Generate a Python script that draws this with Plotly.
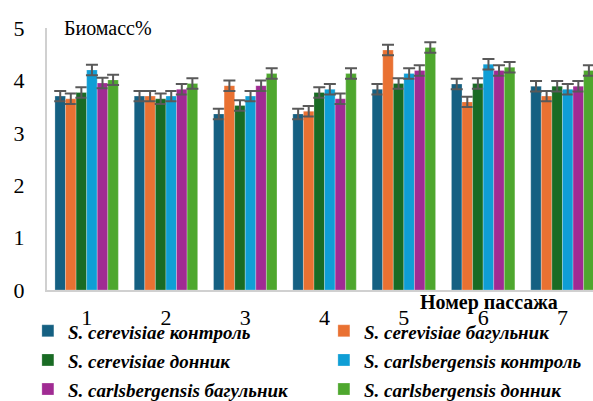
import plotly.graph_objects as go

passages = ["1", "2", "3", "4", "5", "6", "7"]

series_names = [
    "S. cerevisiae контроль",
    "S. cerevisiae багульник",
    "S. cerevisiae донник",
    "S. carlsbergensis контроль",
    "S. carlsbergensis багульник",
    "S. carlsbergensis донник",
]
colors = ["#156082", "#E97132", "#196B24", "#0F9ED5", "#A02B93", "#4EA72E"]

cer_control = [3.70, 3.70, 3.36, 3.36, 3.83, 3.93, 3.89]
cer_bagulnik = [3.65, 3.70, 3.90, 3.41, 4.58, 3.59, 3.70]
cer_donnik = [3.77, 3.65, 3.52, 3.77, 3.94, 3.94, 3.89]
carl_control = [4.20, 3.70, 3.70, 3.83, 4.13, 4.31, 3.83]
carl_bagulnik = [3.95, 3.83, 3.90, 3.65, 4.19, 4.19, 3.89]
carl_donnik = [4.01, 3.94, 4.13, 4.13, 4.63, 4.25, 4.19]
error = [0.1, 0.1, 0.1, 0.1, 0.1, 0.1, 0.1]

series = [cer_control, cer_bagulnik, cer_donnik, carl_control, carl_bagulnik, carl_donnik]

FONT = "Liberation Serif, 'Times New Roman', 'DejaVu Serif', serif"

fig = go.Figure()
for name, vals, col in zip(series_names, series, colors):
    fig.add_trace(go.Bar(
        x=passages, y=vals,
        name=f'<span style="font-size:19px"><b><i>{name}</i></b></span>',
        marker=dict(color=col, line=dict(color="rgba(255,255,255,0.5)", width=0.5)),
        error_y=dict(type="data", array=error, color="#595959", thickness=2, width=6),
    ))

fig.update_layout(
    width=593, height=401,
    margin=dict(l=47, r=0, t=28, b=111, autoexpand=False),
    paper_bgcolor="white", plot_bgcolor="white",
    barmode="group", bargap=0.2, bargroupgap=0,
    font=dict(family=FONT, color="#000000"),
    xaxis=dict(
        type="category", range=[-0.5, 6.385], ticks="",
        showgrid=False, showline=True, linecolor="#D0D0D0", linewidth=2, zeroline=False,
        tickfont=dict(family=FONT, size=22, color="#000000"), ticklabelstandoff=7,
    ),
    yaxis=dict(
        range=[0, 5], tickvals=[0, 1, 2, 3, 4, 5], showgrid=False, zeroline=False,
        showline=True, linecolor="#D0D0D0", linewidth=2, ticks="",
        tickfont=dict(family=FONT, size=22, color="#000000"), ticklabelstandoff=16,
    ),
    legend=dict(
        orientation="h", x=-0.035, xanchor="left", y=-0.081, yanchor="top",
        entrywidth=251, entrywidthmode="pixels", itemwidth=30,
        font=dict(family=FONT, size=20.1, color="#000000"),
        bgcolor="rgba(0,0,0,0)", traceorder="normal",
    ),
    annotations=[
        dict(text="Биомасс%", xref="paper", yref="paper", x=0.027, y=1.0,
             xanchor="left", yanchor="middle", showarrow=False,
             font=dict(family=FONT, size=20, color="#000000")),
        dict(text="<b>Номер пассажа</b>", xref="paper", yref="paper", x=0.679, y=-0.046,
             xanchor="left", yanchor="middle", showarrow=False,
             font=dict(family=FONT, size=20, color="#000000")),
    ],
)

fig.write_html("out.html")
